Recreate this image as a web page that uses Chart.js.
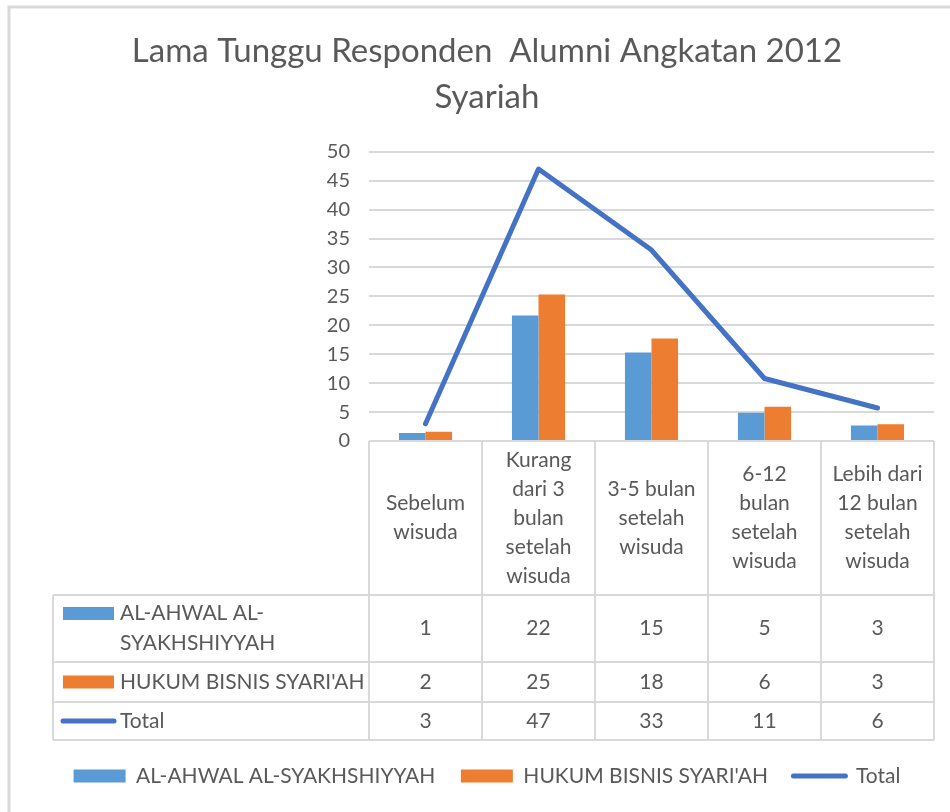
<!DOCTYPE html>
<html>
<head>
<meta charset="utf-8">
<title>Lama Tunggu Responden Alumni Angkatan 2012 Syariah</title>
<script src="https://cdn.jsdelivr.net/npm/chart.js@4.4.1/dist/chart.umd.min.js"></script>
<style>
	body { margin: 0; background: #fff; }
	#wrap { width: 950px; height: 812px; position: relative; }
</style>
</head>
<body>
<div id="wrap"><canvas id="lamaChart"></canvas></div>
<script>
// kategori (baris-baris label kolom tabel)
var categories = [
	["Sebelum", "wisuda"],
	["Kurang", "dari 3", "bulan", "setelah", "wisuda"],
	["3-5 bulan", "setelah", "wisuda"],
	["6-12", "bulan", "setelah", "wisuda"],
	["Lebih dari", "12 bulan", "setelah", "wisuda"]
];
var seriesNames = ["AL-AHWAL AL-SYAKHSHIYYAH", "HUKUM BISNIS SYARI'AH", "Total"];
var ahwalList = [1.4, 21.7, 15.3, 4.9, 2.7];
var bisnisList = [1.6, 25.3, 17.7, 5.9, 2.9];
var totalList = [3.0, 47.0, 33.0, 10.8, 5.7];
var yTicks = [0, 5, 10, 15, 20, 25, 30, 35, 40, 45, 50];

var titleLines = ["Lama Tunggu Responden  Alumni Angkatan 2012", "Syariah"];

var FONT = "Lato";
var TEXT = "#595959";
var GRID = "#d9d9d9";
var BLUE = "#5B9BD5", ORANGE = "#ED7D31", LINE = "#4472C4";

// tinggi baris tabel di bawah sumbu x
var headerH = 154, rowHs = [67, 40, 38];
var tableLeft = 53;

function wrapText(ctx, text, maxW) {
	var tokens = text.match(/[^\s-]+-?\s*/g) || [text];
	var lines = [], cur = "";
	tokens.forEach(function(t) {
		if (cur && ctx.measureText((cur + t).trim()).width > maxW) {
			lines.push(cur.trim());
			cur = t;
		} else {
			cur += t;
		}
	});
	if (cur) lines.push(cur.trim());
	return lines;
}

var framePlugin = {
	id: 'frame',
	beforeDraw: function(chart) {
		var ctx = chart.ctx;
		ctx.save();
		ctx.fillStyle = "#fff";
		ctx.fillRect(0, 0, chart.width, chart.height);
		ctx.strokeStyle = GRID;
		ctx.lineWidth = 3;
		ctx.beginPath();
		ctx.moveTo(9, chart.height);
		ctx.lineTo(9, 7);
		ctx.lineTo(chart.width, 7);
		ctx.stroke();
		ctx.restore();
	}
};

var tablePlugin = {
	id: 'dataTable',
	afterDraw: function(chart) {
		var ctx = chart.ctx;
		var xs = chart.scales.x;
		var n = categories.length;
		var cw = xs.width / n;
		var edges = [];
		for (var i = 0; i < n; i++) edges.push(xs.getPixelForValue(i) - cw / 2);
		edges.push(xs.getPixelForValue(n - 1) + cw / 2);

		var rows = [chart.chartArea.bottom];
		rows.push(rows[0] + headerH);
		rowHs.forEach(function(h) { rows.push(rows[rows.length - 1] + h); });
		var bottom = rows[rows.length - 1];

		ctx.save();
		// garis tabel
		ctx.strokeStyle = GRID;
		ctx.lineWidth = 2;
		ctx.beginPath();
		edges.forEach(function(ex) { ctx.moveTo(ex, rows[0]); ctx.lineTo(ex, bottom); });
		ctx.moveTo(tableLeft, rows[1]); ctx.lineTo(tableLeft, bottom);
		ctx.moveTo(edges[0], rows[0]); ctx.lineTo(edges[n], rows[0]);
		for (var r = 1; r < rows.length; r++) {
			ctx.moveTo(tableLeft, rows[r]); ctx.lineTo(edges[n], rows[r]);
		}
		ctx.stroke();

		ctx.fillStyle = TEXT;
		ctx.font = "21px " + FONT;
		ctx.textAlign = "center";
		ctx.textBaseline = "middle";

		// label kategori
		var lh = 29;
		var hc = (rows[0] + rows[1]) / 2;
		categories.forEach(function(lines, i) {
			var cx = xs.getPixelForValue(i);
			var y0 = hc - (lines.length - 1) * lh / 2;
			lines.forEach(function(t, k) { ctx.fillText(t, cx, y0 + k * lh); });
		});

		// baris data
		var lists = [ahwalList, bisnisList, totalList];
		lists.forEach(function(list, s) {
			var cy = (rows[s + 1] + rows[s + 2]) / 2;
			ctx.textAlign = "center";
			list.forEach(function(v, i) {
				ctx.fillText(String(Math.round(v)), xs.getPixelForValue(i), cy);
			});
			ctx.textAlign = "left";
			var lines = wrapText(ctx, seriesNames[s], edges[0] - 124);
			var rlh = 30;
			var y0 = cy - (lines.length - 1) * rlh / 2;
			lines.forEach(function(t, k) { ctx.fillText(t, 120, y0 + k * rlh); });
			// kunci legenda
			if (s < 2) {
				ctx.fillStyle = s === 0 ? BLUE : ORANGE;
				ctx.fillRect(63, y0 - 6.5, 51, 13);
				ctx.fillStyle = TEXT;
			} else {
				ctx.strokeStyle = LINE;
				ctx.lineWidth = 5;
				ctx.lineCap = "round";
				ctx.beginPath();
				ctx.moveTo(63, y0); ctx.lineTo(114, y0);
				ctx.stroke();
			}
		});
		ctx.restore();
	}
};

var lamaCtx = document.getElementById("lamaChart").getContext("2d");
var lamaChart = new Chart(lamaCtx, {
	type: 'bar',
	data: {
		labels: categories,
		datasets: [{
			label: seriesNames[0],
			data: ahwalList,
			backgroundColor: BLUE,
			order: 1
		}, {
			label: seriesNames[1],
			data: bisnisList,
			backgroundColor: ORANGE,
			order: 1
		}, {
			type: 'line',
			label: seriesNames[2],
			data: totalList,
			borderColor: LINE,
			backgroundColor: LINE,
			borderWidth: 5,
			borderCapStyle: 'round',
			borderJoinStyle: 'round',
			pointRadius: 0,
			tension: 0,
			order: 0
		}]
	},
	options: {
		responsive: true,
		maintainAspectRatio: false,
		animation: false,
		layout: { padding: { left: 40, right: 16, top: 0, bottom: 15.5 } },
		datasets: {
			bar: { categoryPercentage: 0.47, barPercentage: 1 }
		},
		plugins: {
			tooltip: { enabled: false },
			title: {
				display: true,
				text: titleLines,
				color: TEXT,
				font: { family: FONT, size: 33, weight: 'normal', lineHeight: 1.42 },
				padding: { top: 27.5, bottom: 30.5 }
			},
			legend: {
				position: 'bottom',
				labels: {
					color: TEXT,
					font: { family: FONT, size: 21 },
					usePointStyle: true,
					pointStyleWidth: 52,
					boxHeight: 13,
					padding: 25.5,
					generateLabels: function(chart) {
						return chart.data.datasets.map(function(ds, i) {
							var isLine = ds.type === 'line';
							return {
								text: ds.label,
								fillStyle: ds.backgroundColor,
								strokeStyle: isLine ? ds.borderColor : ds.backgroundColor,
								lineWidth: isLine ? 5 : 0,
								lineCap: 'round',
								pointStyle: isLine ? 'line' : 'rect',
								fontColor: TEXT,
								hidden: false,
								datasetIndex: i
							};
						});
					}
				}
			}
		},
		scales: {
			x: {
				ticks: { display: false },
				grid: { display: false },
				border: { display: false },
				afterFit: function(scale) { scale.height = headerH + rowHs[0] + rowHs[1] + rowHs[2]; }
			},
			y: {
				min: 0,
				max: 50,
				afterBuildTicks: function(scale) {
					scale.ticks = yTicks.map(function(v) { return { value: v }; });
				},
				ticks: {
					color: TEXT,
					font: { family: FONT, size: 20 },
					padding: 19
				},
				grid: { color: GRID, lineWidth: 2, drawTicks: false },
				border: { display: false },
				afterFit: function(scale) { scale.width = 329; }
			}
		}
	},
	plugins: [framePlugin, tablePlugin]
});
</script>
</body>
</html>
